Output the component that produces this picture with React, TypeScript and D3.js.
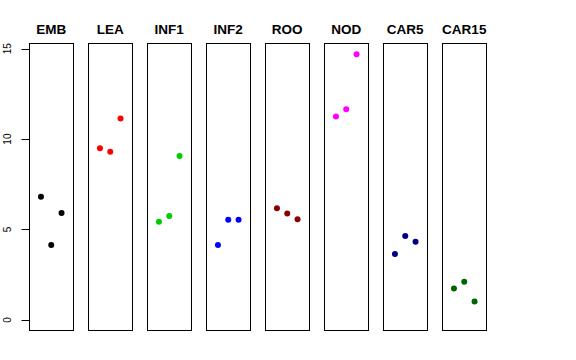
import React from 'react';
import * as d3 from 'd3';

const tissues = ['EMB', 'LEA', 'INF1', 'INF2', 'ROO', 'NOD', 'CAR5', 'CAR15'];
const colors = ['#000000', '#FF0000', '#00CD00', '#0000FF', '#8B0000', '#FF00FF', '#000080', '#006400'];
const replicate = [1, 2, 3];
const values: number[][] = [
  [6.81, 4.14, 5.91],
  [9.5, 9.3, 11.14],
  [5.43, 5.74, 9.06],
  [4.14, 5.54, 5.54],
  [6.17, 5.89, 5.56],
  [11.25, 11.65, 14.7],
  [3.64, 4.64, 4.32],
  [1.73, 2.11, 1.01],
];
const yTicks = [0, 5, 10, 15];

export default function App() {
  const width = 576;
  const height = 360;
  const top = 43.5;
  const bottom = 330.5;

  const yMax = d3.max(values.flat()) as number;
  const pad = yMax * 0.04;
  const y = d3.scaleLinear().domain([0 - pad, yMax + pad]).range([bottom, top]);

  const panel = d3.scaleBand<string>()
    .domain(tissues)
    .range([29, 486.5])
    .paddingInner(0.246)
    .paddingOuter(0);
  const bw = panel.bandwidth();

  // each panel: 3 replicates on x, xlim 0..4 with R's 4% padding
  const x = d3.scaleLinear().domain([-0.16, 4.16]).range([0, bw]);

  const font = 'Liberation Sans, Arial, Helvetica, sans-serif';

  return (
    <svg width={width} height={height} style={{ position: 'absolute', left: 0, top: 0, background: '#fff' }}>
      {/* y axis */}
      <g>
        <line x1={29.5} x2={29.5} y1={y(15)} y2={y(0)} stroke="#000" strokeWidth={1} />
        {yTicks.map(t => (
          <g key={t}>
            <line x1={21.5} x2={29.5} y1={Math.round(y(t)) + 0.5} y2={Math.round(y(t)) + 0.5} stroke="#000" />
            <text
              transform={`translate(11,${y(t)}) rotate(-90)`}
              textAnchor="middle"
              fontFamily={font}
              fontSize={10}
              fill="#000"
            >
              {t}
            </text>
          </g>
        ))}
      </g>
      {tissues.map((name, i) => {
        const x0 = panel(name) as number;
        return (
          <g key={name} transform={`translate(${x0},0)`}>
            <text
              x={bw / 2}
              y={34}
              textAnchor="middle"
              fontFamily={font}
              fontWeight="bold"
              fontSize={13.5}
              fill="#000"
            >
              {name}
            </text>
            {values[i].map((v, j) => (
              <circle key={j} cx={x(replicate[j])} cy={y(v)} r={3} fill={colors[i]} />
            ))}
            <rect
              x={Math.round(x0) - x0 + 0.5}
              y={top}
              width={Math.round(bw)}
              height={bottom - top}
              fill="none"
              stroke="#000"
              strokeWidth={1}
            />
          </g>
        );
      })}
    </svg>
  );
}
